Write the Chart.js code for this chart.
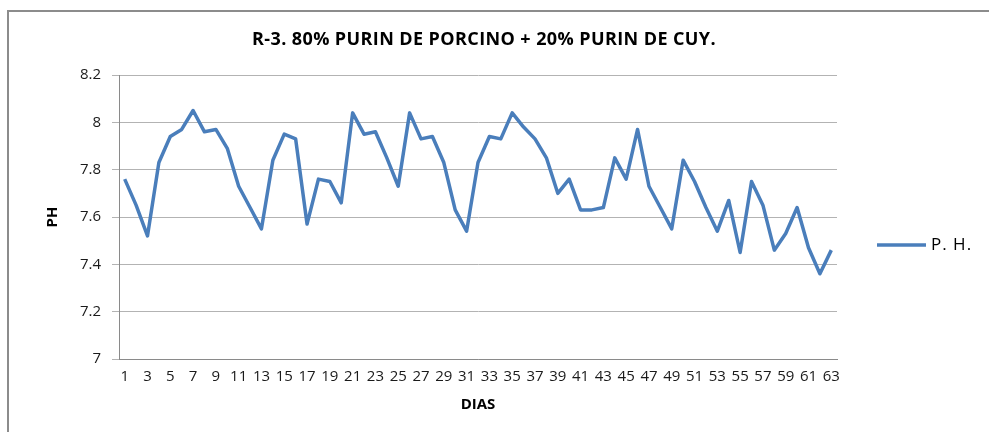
<!DOCTYPE html>
<html>
<head>
<meta charset="utf-8">
<script src="https://cdn.jsdelivr.net/npm/chart.js@4.4.1/dist/chart.umd.min.js"></script>
<style>
  html, body { margin: 0; background: #fff; }
</style>
</head>
<body>
<canvas id="graficoPH" width="989" height="432"></canvas>
<script>
// Datos
const dias = [1, 2, 3, 4, 5, 6, 7, 8, 9, 10, 11, 12, 13, 14, 15, 16, 17, 18, 19, 20, 21,
  22, 23, 24, 25, 26, 27, 28, 29, 30, 31, 32, 33, 34, 35, 36, 37, 38, 39, 40, 41, 42,
  43, 44, 45, 46, 47, 48, 49, 50, 51, 52, 53, 54, 55, 56, 57, 58, 59, 60, 61, 62, 63];

const valoresPH = [7.76, 7.65, 7.52, 7.83, 7.94, 7.97, 8.05, 7.96, 7.97, 7.89, 7.73,
  7.64, 7.55, 7.84, 7.95, 7.93, 7.57, 7.76, 7.75, 7.66, 8.04, 7.95, 7.96, 7.85, 7.73,
  8.04, 7.93, 7.94, 7.83, 7.63, 7.54, 7.83, 7.94, 7.93, 8.04, 7.98, 7.93, 7.85, 7.70,
  7.76, 7.63, 7.63, 7.64, 7.85, 7.76, 7.97, 7.73, 7.64, 7.55, 7.84, 7.75, 7.64, 7.54,
  7.67, 7.45, 7.75, 7.65, 7.46, 7.53, 7.64, 7.47, 7.36, 7.46];

const tituloGrafico = 'R-3. 80% PURIN DE PORCINO + 20% PURIN DE CUY.';
const etiquetaSerie = 'P. H.';
const tituloEjeX = 'DIAS';
const tituloEjeY = 'PH';
const minY = 7;
const maxY = 8.2;
const pasoY = 0.2;

const azul = '#4a7ebb';
const fuente = "'Open Sans', 'DejaVu Sans', sans-serif";

// Marco, título y leyenda dibujados a mano (como en Excel)
const extras = {
  id: 'extras',
  beforeDraw(chart) {
    const ctx = chart.ctx;
    ctx.save();
    ctx.strokeStyle = '#8c8c8c';
    ctx.lineWidth = 2;
    ctx.beginPath();
    ctx.moveTo(8, 432);
    ctx.lineTo(8, 11);
    ctx.lineTo(989, 11);
    ctx.stroke();
    ctx.restore();
  },
  afterDraw(chart) {
    const ctx = chart.ctx;
    ctx.save();
    ctx.fillStyle = '#000';
    ctx.textAlign = 'center';
    ctx.textBaseline = 'middle';
    ctx.font = 'bold 18px ' + fuente;
    ctx.letterSpacing = '0.4px';
    ctx.fillText(tituloGrafico, 484, 40);

    // leyenda
    ctx.strokeStyle = azul;
    ctx.lineWidth = 3.5;
    ctx.beginPath();
    ctx.moveTo(877, 245);
    ctx.lineTo(926, 245);
    ctx.stroke();
    ctx.textAlign = 'left';
    ctx.font = '17px ' + fuente;
    ctx.letterSpacing = '1px';
    ctx.fillText(chart.data.datasets[0].label, 931, 245);
    ctx.restore();
  }
};

const ctxPH = document.getElementById('graficoPH').getContext('2d');

new Chart(ctxPH, {
  type: 'line',
  data: {
    labels: dias,
    datasets: [{
      label: etiquetaSerie,
      data: valoresPH,
      borderColor: azul,
      backgroundColor: azul,
      borderWidth: 3.5,
      pointRadius: 0,
      tension: 0,
      borderJoinStyle: 'round'
    }]
  },
  options: {
    responsive: false,
    animation: false,
    devicePixelRatio: 1,
    layout: {
      padding: { left: 44, top: 75, right: 152, bottom: 18 }
    },
    plugins: {
      legend: { display: false },
      title: { display: false },
      tooltip: { enabled: false }
    },
    scales: {
      x: {
        offset: true,
        grid: { display: false, drawTicks: false },
        border: { color: '#8a8a8a', width: 1 },
        ticks: {
          color: '#1a1a1a',
          font: { family: fuente, size: 15 },
          padding: 9,
          autoSkip: false,
          maxRotation: 0,
          callback: function (valor, indice) {
            return indice % 2 === 0 ? this.getLabelForValue(valor) : '';
          }
        },
        title: {
          display: true,
          text: tituloEjeX,
          color: '#000',
          font: { family: fuente, size: 15, weight: 'bold' },
          padding: 0
        },
        afterFit: (escala) => { escala.height = 55; }
      },
      y: {
        min: minY,
        max: maxY,
        grid: { color: '#b3b3b3', tickLength: 7, drawTicks: true },
        border: { color: '#8a8a8a', width: 1 },
        ticks: {
          stepSize: pasoY,
          color: '#1a1a1a',
          font: { family: fuente, size: 15 },
          padding: 11,
          callback: (valor) => String(Number(valor.toFixed(1)))
        },
        title: {
          display: true,
          text: tituloEjeY,
          color: '#000',
          font: { family: fuente, size: 15, weight: 'bold' },
          padding: 0
        },
        afterFit: (escala) => { escala.width = 75; }
      }
    }
  },
  plugins: [extras]
});
</script>
</body>
</html>
